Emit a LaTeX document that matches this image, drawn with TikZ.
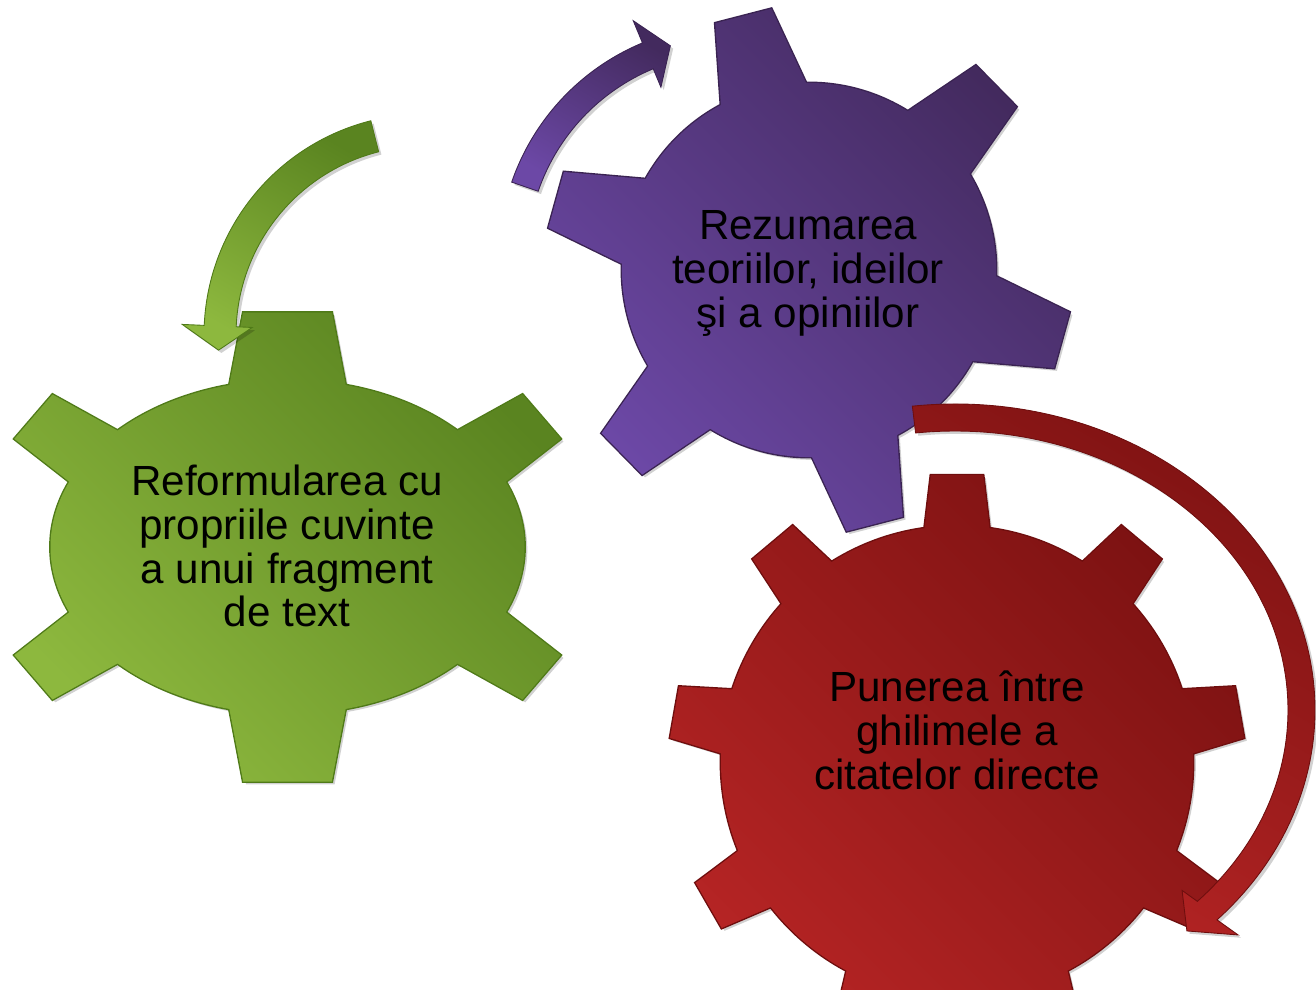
\documentclass[tikz,border=0pt]{standalone}
\usepackage{fontspec}
\setmainfont{Liberation Sans}
\usepackage{tikz}
\usepackage{xcolor}
\definecolor{verdeInchis}{HTML}{5A8420}
\definecolor{verdeDeschis}{HTML}{8DB83E}
\definecolor{verdeMargine}{HTML}{4F7A18}
\definecolor{movInchis}{HTML}{432A5E}
\definecolor{movDeschis}{HTML}{6C48A6}
\definecolor{movMargine}{HTML}{3A2352}
\definecolor{rosuInchis}{HTML}{7D1212}
\definecolor{rosuDeschis}{HTML}{B52424}
\definecolor{rosuMargine}{HTML}{6E0E0E}
\tikzset{
Umbra/.style={
 preaction={fill=black, opacity=0.18, transform canvas={xshift=1.6pt, yshift=-1.6pt}}
 },
RoataVerde/.style={
 Umbra,
 top color=verdeInchis,
 bottom color=verdeDeschis,
 shading angle=-45,
 preaction={draw=verdeMargine, line width=1.6pt}
 },
RoataMov/.style={
 Umbra,
 top color=movInchis,
 bottom color=movDeschis,
 shading angle=-45,
 preaction={draw=movMargine, line width=1.6pt}
 },
RoataRosie/.style={
 Umbra,
 top color=rosuInchis,
 bottom color=rosuDeschis,
 shading angle=-45,
 preaction={draw=rosuMargine, line width=1.6pt}
 },
SageataVerde/.style={
 Umbra,
 draw=verdeMargine,
 line width=0.5pt,
 top color=verdeInchis,
 bottom color=verdeDeschis,
 shading angle=-30
 },
SageataMov/.style={
 Umbra,
 draw=movMargine,
 line width=0.5pt,
 top color=movInchis,
 bottom color=movDeschis,
 shading angle=-30
 },
SageataRosie/.style={
 Umbra,
 draw=rosuMargine,
 line width=0.5pt,
 top color=rosuInchis,
 bottom color=rosuDeschis,
 shading angle=-30
 },
Eticheta/.style={
 align=center,
 inner sep=0pt,
 text=black,
 font=\fontsize{24}{25}\selectfont
 }
}
% corp eliptic + dinti: stil, rx, ry, lungime dinte, lista unghi/baza/varf
\newcommand{\Roata}[5]{%
 \path[#1] (#2,0) arc[start angle=0, end angle=360, x radius=#2, y radius=#3]
  \foreach \ung/\baz/\vrf in {#5}{
   ({#2*cos(\ung-\baz)},{#3*sin(\ung-\baz)})
   -- ({(#2+#4)*cos(\ung-\vrf)},{(#3+#4)*sin(\ung-\vrf)})
   -- ({(#2+#4)*cos(\ung+\vrf)},{(#3+#4)*sin(\ung+\vrf)})
   -- ({#2*cos(\ung+\baz)},{#3*sin(\ung+\baz)}) -- cycle};
}

\begin{document}
\begin{tikzpicture}[x=2cm,y=2cm]
\useasboundingbox (0,0) rectangle (13.16,-9.90);
\begin{scope}[shift={(2.875,-5.47)}]
\Roata{RoataVerde}{2.37}{1.67}{0.70}{90/14.2/8.3, 270/14.2/8.3, 146.4/10.6/6.45,
 213.6/10.6/6.45, 33.6/10.6/6.45, 326.4/10.6/6.45}
\end{scope}
\begin{scope}[shift={(8.09,-2.70)},rotate=14.5]
\Roata{RoataMov}{1.87}{1.87}{0.77}{90/13.6/6.3, 150/13.6/6.3, 210/13.6/6.3,
 270/13.6/6.3, 330/13.6/6.3, 30/13.6/6.3}
\end{scope}
\begin{scope}[shift={(9.57,-7.62)}]
\Roata{RoataRosie}{2.36}{2.36}{0.52}{90/7.9/5.2, 130/7.9/5.2, 170/7.9/5.2,
 210/7.9/5.2, 250/7.9/5.2, 290/7.9/5.2, 330/7.9/5.2, 10/7.9/5.2, 50/7.9/5.2}
\end{scope}
\begin{scope}[shift={(4.25,-3.35)}]
\path[SageataVerde] (104.2:2.21) arc[start angle=104.2, end angle=177.5, radius=2.21]
 -- (177.5:2.43) -- (184.2:2.07) -- (177.5:1.73) -- (177.5:1.89)
 arc[start angle=177.5, end angle=104.2, radius=1.89] -- cycle;
\end{scope}
\begin{scope}[shift={(7.32,-2.58)}]
\path[SageataMov] (161:2.33) arc[start angle=161, end angle=112.6, radius=2.33]
 -- (112.6:2.57) -- (106.2:2.21) -- (112.6:1.85) -- (112.6:2.05)
 arc[start angle=112.6, end angle=161, radius=2.05] -- cycle;
\end{scope}
\begin{scope}[shift={(9.55,-7.10)}]
\path[SageataRosie] (96.8:3.60 and 3.06)
 arc[start angle=96.8, end angle=-43.3, x radius=3.60, y radius=3.06]
 -- (-43.3:3.89 and 3.28) -- (-48.5:3.50 and 2.95) -- (-43.3:3.12 and 2.63)
 -- (-43.3:3.33 and 2.79)
 arc[start angle=-43.3, end angle=96.8, x radius=3.33, y radius=2.79] -- cycle;
\end{scope}
\node[Eticheta] (verde) at (2.87,-5.46) {Reformularea cu\\propriile cuvinte\\a unui fragment\\de text};
\node[Eticheta] (mov) at (8.08,-2.735) {Rezumarea\\teoriilor, ideilor\\şi a opiniilor};
\node[Eticheta] (rosu) at (9.57,-7.30) {Punerea între\\ghilimele a\\citatelor directe};
\end{tikzpicture}
\end{document}
